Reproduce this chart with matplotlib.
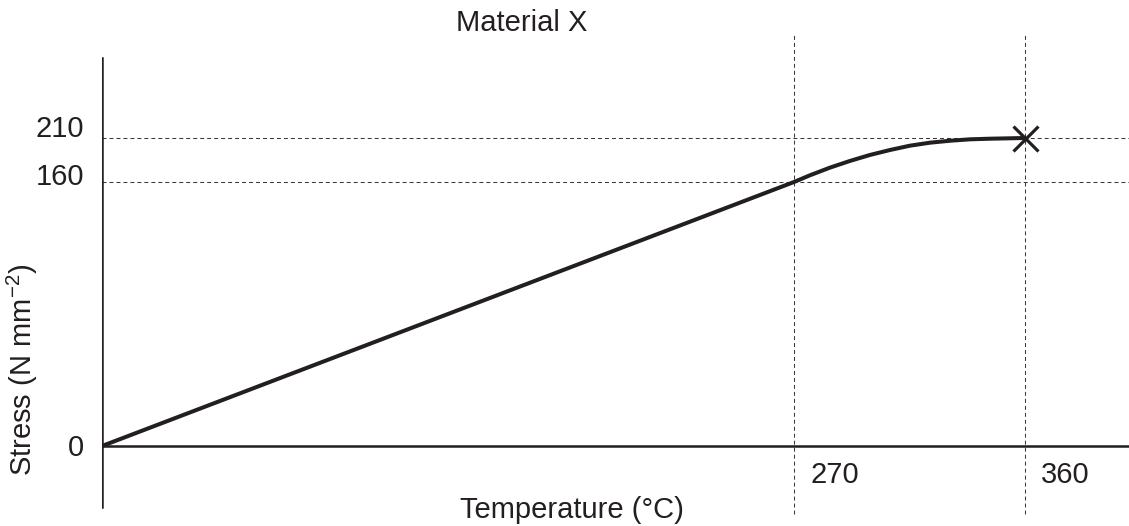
import matplotlib
matplotlib.use("Agg")
import matplotlib.pyplot as plt
import numpy as np

# curve
temperature = [0, 270, 276.2, 284.0, 291.8, 299.6, 307.5, 315.3, 323.1, 330.9, 338.7, 346.5, 360]
stress = [0, 160, 167.6, 176.3, 183.9, 190.7, 196.4, 201.3, 204.7, 206.9, 208.5, 209.2, 210]

x_marks = [270, 360]
y_marks = [160, 210]
x_labels = ["270", "360"]
y_labels = ["0", "160", "210"]
y_label_vals = [0, 160, 210]

plt.rcParams["font.family"] = ["Liberation Sans", "DejaVu Sans"]
plt.rcParams["mathtext.fontset"] = "custom"
plt.rcParams["mathtext.rm"] = "Liberation Sans"
plt.rcParams["mathtext.it"] = "Liberation Sans:italic"
plt.rcParams["mathtext.default"] = "regular"

ink = "#231f20"
fs = 21


# schematic stress axis: the top part (160-210) is squeezed
def fwd(s):
    s = np.asarray(s, dtype=float)
    return np.where(s <= 160, s * 1.65, 264 + (s - 160) * 0.88)


def inv(u):
    u = np.asarray(u, dtype=float)
    return np.where(u <= 264, u / 1.65, 160 + (u - 264) / 0.88)


W, H = 1129, 526
fig = plt.figure(figsize=(W / 100, H / 100), dpi=100)
ax = fig.add_axes([102 / W, 10 / H, 1 - 102 / W, 486 / H])
ax.set_yscale("function", functions=(fwd, inv))
ax.set_xlim(0, (W - 102) / 2.563)
ax.set_ylim(float(inv(-70)), float(inv(416)))
for sp in ax.spines.values():
    sp.set_visible(False)
ax.set_xticks([])
ax.set_yticks([])
ax.minorticks_off()
ax.patch.set_alpha(0)

dash = (0, (3.8, 2.9))
for v in y_marks:
    ax.axhline(v, color="#3a3a3a", lw=0.75, ls=dash, zorder=1)
for v in x_marks:
    ax.axvline(v, ymin=0.004, ymax=0.994, color="#3a3a3a", lw=0.75, ls=dash,
               zorder=1, clip_on=False)

# axes lines
ax.axhline(0, color=ink, lw=1.8, zorder=2)
ax.axvline(0, ymin=0.0185, ymax=0.942, color=ink, lw=1.8, zorder=2)

ax.plot(temperature, stress, color=ink, lw=2.9, solid_capstyle="round",
        solid_joinstyle="round", zorder=3)
ax.plot(temperature[-1], stress[-1], marker="x", ms=18, mew=2.3, color=ink, zorder=4)

# tick labels
for lab, v in zip(y_labels, y_label_vals):
    dy = {0: -2, 160: 5, 210: 9}[v]
    ax.annotate(lab, xy=(0, v), xytext=(-18, dy), textcoords="offset pixels",
                ha="right", va="center", fontsize=fs, color=ink, annotation_clip=False)
for lab, v in zip(x_labels, x_marks):
    ax.annotate(lab, xy=(v, 0), xytext=(16, -29), textcoords="offset pixels",
                ha="left", va="center", fontsize=fs, color=ink, annotation_clip=False)

fig.text(522 / W, 1 - 23 / H, "Material X", ha="center", va="center", fontsize=fs, color=ink)
fig.text(572 / W, 1 - 510 / H, "Temperature (°C)", ha="center", va="center",
         fontsize=fs, color=ink)
fig.text(22 / W, 1 - 370 / H, "Stress (N mm$^{-2}$)", ha="center", va="center",
         rotation=90, fontsize=fs, color=ink)

fig.savefig("out.png", dpi=100)
